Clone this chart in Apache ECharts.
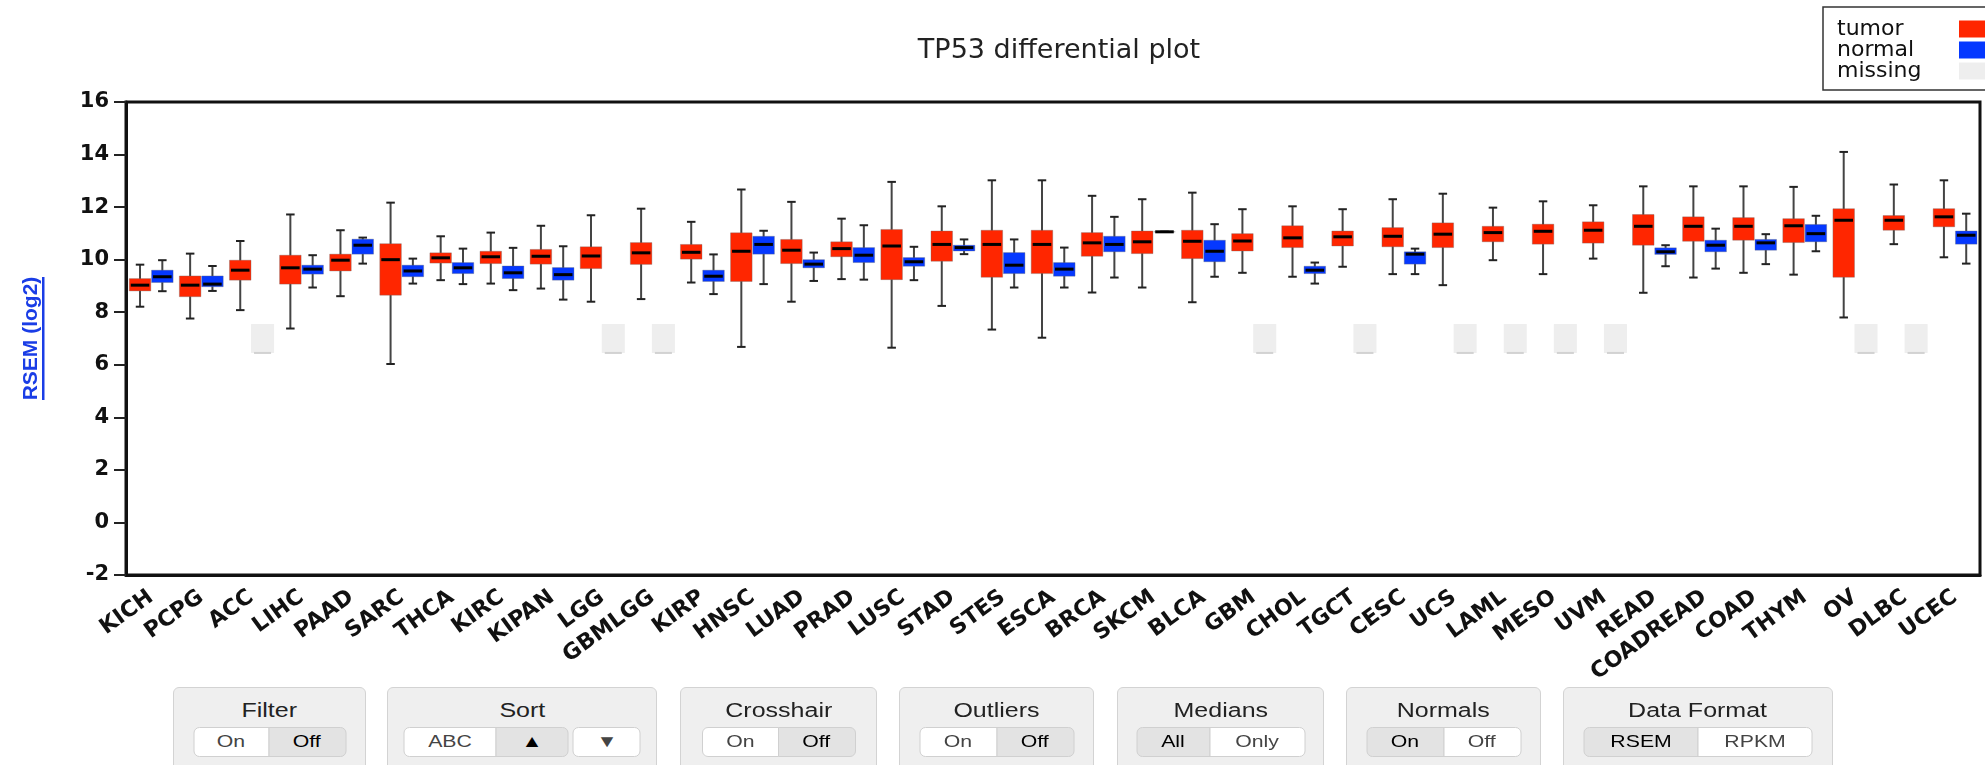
<!DOCTYPE html>
<html>
<head>
<meta charset="utf-8">
<title>TP53 differential plot</title>
<script src="https://cdn.jsdelivr.net/npm/echarts@6.0.0/dist/echarts.min.js"></script>
<style>
  html, body { margin: 0; padding: 0; background: #fff; }
  #wrap { position: relative; width: 1985px; height: 765px; overflow: hidden; }
  #main { position: absolute; left: 0; top: 0; width: 1985px; height: 765px; }
  .panel {
    position: absolute; top: 687px; height: 110px; box-sizing: border-box;
    background: #efefef; border: 1px solid #d3d3d3; border-radius: 6px;
    font-family: 'Liberation Sans', Arial, sans-serif;
  }
  .ttl { margin-top: 10px; text-align: center; font-size: 20px; line-height: 24px; color: #222; }
  .ttl i, .grp i { display: inline-block; font-style: normal; transform: scaleX(1.25); }
  .grp {
    position: absolute; top: 39px; left: 50%; transform: translateX(-50%);
    display: flex; height: 30px;
  }
  .grp span {
    display: flex; align-items: center; justify-content: center;
    background: #fff; border: 1px solid #d0d0d0; margin-left: -1px;
    font-size: 17px; color: #444;
  }
  .grp span:first-child { border-radius: 6px 0 0 6px; margin-left: 0; }
  .grp span:last-child { border-radius: 0 6px 6px 0; }
  .grp span.act { background: #e3e3e3; color: #000; }
  .grp span.sep { margin-left: 4px; border-radius: 6px; }
</style>
</head>
<body>
<div id="wrap">
  <div id="main"></div>

  <div class="panel" style="left:173px;width:193px">
    <div class="ttl"><i>Filter</i></div>
    <div class="grp"><span style="width:74px"><i>On</i></span><span class="act" style="width:76px"><i>Off</i></span></div>
  </div>
  <div class="panel" style="left:387px;width:270px">
    <div class="ttl"><i>Sort</i></div>
    <div class="grp"><span style="width:91px"><i>ABC</i></span><span class="act" style="width:71px;border-radius:0 6px 6px 0"><i>▲</i></span><span class="sep" style="width:66px"><i>▼</i></span></div>
  </div>
  <div class="panel" style="left:680px;width:197px">
    <div class="ttl"><i>Crosshair</i></div>
    <div class="grp"><span style="width:75px"><i>On</i></span><span class="act" style="width:76px"><i>Off</i></span></div>
  </div>
  <div class="panel" style="left:899px;width:195px">
    <div class="ttl"><i>Outliers</i></div>
    <div class="grp"><span style="width:76px"><i>On</i></span><span class="act" style="width:76px"><i>Off</i></span></div>
  </div>
  <div class="panel" style="left:1117px;width:207px">
    <div class="ttl"><i>Medians</i></div>
    <div class="grp"><span class="act" style="width:72px"><i>All</i></span><span style="width:94px"><i>Only</i></span></div>
  </div>
  <div class="panel" style="left:1346px;width:195px">
    <div class="ttl"><i>Normals</i></div>
    <div class="grp"><span class="act" style="width:76px"><i>On</i></span><span style="width:76px"><i>Off</i></span></div>
  </div>
  <div class="panel" style="left:1563px;width:270px">
    <div class="ttl"><i>Data Format</i></div>
    <div class="grp"><span class="act" style="width:113px"><i>RSEM</i></span><span style="width:113px"><i>RPKM</i></span></div>
  </div>
</div>

<script>
// cohorts, in the sorted (ascending tumor median) order of the reference
const categories = [
  'KICH', 'PCPG', 'ACC', 'LIHC', 'PAAD', 'SARC', 'THCA', 'KIRC', 'KIPAN', 'LGG',
  'GBMLGG', 'KIRP', 'HNSC', 'LUAD', 'PRAD', 'LUSC', 'STAD', 'STES', 'ESCA', 'BRCA',
  'SKCM', 'BLCA', 'GBM', 'CHOL', 'TGCT', 'CESC', 'UCS', 'LAML', 'MESO', 'UVM',
  'READ', 'COADREAD', 'COAD', 'THYM', 'OV', 'DLBC', 'UCEC'
]

// [low whisker, Q1, median, Q3, high whisker], RSEM (log2)
const tumorStats = [
  [8.21, 8.81, 9.03, 9.28, 9.81],
  [7.76, 8.59, 9.03, 9.38, 10.23],
  [8.08, 9.22, 9.60, 9.98, 10.71],
  [7.38, 9.07, 9.69, 10.17, 11.72],
  [8.61, 9.57, 9.98, 10.21, 11.12],
  [6.03, 8.65, 10.00, 10.61, 12.17],
  [9.22, 9.87, 10.07, 10.26, 10.89],
  [9.09, 9.85, 10.11, 10.32, 11.03],
  [8.90, 9.83, 10.13, 10.39, 11.29],
  [8.40, 9.66, 10.14, 10.49, 11.69],
  [8.50, 9.82, 10.26, 10.65, 11.94],
  [9.13, 10.02, 10.28, 10.58, 11.44],
  [6.68, 9.17, 10.32, 11.02, 12.67],
  [8.40, 9.85, 10.36, 10.77, 12.20],
  [9.26, 10.11, 10.42, 10.68, 11.56],
  [6.65, 9.24, 10.52, 11.15, 12.96],
  [8.24, 9.94, 10.58, 11.09, 12.03],
  [7.34, 9.33, 10.58, 11.12, 13.02],
  [7.03, 9.47, 10.58, 11.12, 13.02],
  [8.75, 10.13, 10.64, 11.03, 12.43],
  [8.94, 10.23, 10.68, 11.09, 12.30],
  [8.38, 10.04, 10.70, 11.12, 12.55],
  [9.50, 10.33, 10.71, 10.99, 11.92],
  [9.35, 10.46, 10.83, 11.29, 12.03],
  [9.73, 10.52, 10.87, 11.09, 11.92],
  [9.45, 10.49, 10.89, 11.22, 12.30],
  [9.03, 10.46, 10.97, 11.40, 12.51],
  [9.98, 10.68, 11.03, 11.27, 11.98],
  [9.45, 10.59, 11.08, 11.35, 12.22],
  [10.04, 10.63, 11.12, 11.44, 12.07],
  [8.74, 10.55, 11.27, 11.72, 12.79],
  [9.32, 10.70, 11.27, 11.63, 12.79],
  [9.50, 10.74, 11.27, 11.60, 12.79],
  [9.43, 10.65, 11.29, 11.56, 12.77],
  [7.80, 9.33, 11.50, 11.94, 14.10],
  [10.59, 11.12, 11.50, 11.68, 12.86],
  [10.09, 11.25, 11.63, 11.94, 13.02]
]

// null = no normal samples (drawn as a grey "missing" block)
const normalStats = [
  [8.80, 9.13, 9.35, 9.60, 9.98],
  [8.81, 8.97, 9.07, 9.38, 9.76],
  null,
  [8.94, 9.45, 9.64, 9.79, 10.17],
  [9.85, 10.21, 10.55, 10.78, 10.84],
  [9.09, 9.35, 9.57, 9.79, 10.04],
  [9.07, 9.47, 9.69, 9.89, 10.42],
  [8.84, 9.28, 9.50, 9.76, 10.45],
  [8.48, 9.22, 9.43, 9.70, 10.51],
  null,
  null,
  [8.69, 9.17, 9.37, 9.60, 10.20],
  [9.07, 10.21, 10.58, 10.89, 11.10],
  [9.19, 9.69, 9.83, 10.00, 10.27],
  [9.24, 9.89, 10.17, 10.46, 11.31],
  [9.22, 9.75, 9.92, 10.08, 10.49],
  [10.21, 10.33, 10.46, 10.55, 10.77],
  [8.94, 9.47, 9.79, 10.27, 10.77],
  [8.94, 9.37, 9.64, 9.89, 10.46],
  [9.32, 10.30, 10.58, 10.89, 11.63],
  [11.06, 11.06, 11.06, 11.06, 11.06],
  [9.35, 9.92, 10.32, 10.74, 11.35],
  null,
  [9.09, 9.47, 9.60, 9.75, 9.89],
  null,
  [9.45, 9.83, 10.21, 10.30, 10.42],
  null,
  null,
  null,
  null,
  [9.75, 10.20, 10.30, 10.45, 10.55],
  [9.66, 10.30, 10.55, 10.74, 11.18],
  [9.83, 10.36, 10.64, 10.77, 10.97],
  [10.32, 10.68, 10.99, 11.34, 11.67],
  null,
  null,
  [9.85, 10.59, 10.93, 11.09, 11.75]
]

// span of the grey placeholder block
const missingRange = [6.45, 7.55]

const yTicks = { min: -2, max: 16, interval: 2 }

const TUMOR = '#ff2600'
const NORMAL = '#0538ff'
const MISSING = '#eeeeee'
const LINK_BLUE = '#1a3de6'

const tumorData = tumorStats.map((s, i) => [i].concat(s))
const normalData = []
const missingData = []
normalStats.forEach((s, i) => {
  if (s) normalData.push([i].concat(s))
  else missingData.push([i, missingRange[0], missingRange[1]])
})

function boxRenderer(offset, fill) {
  return function(params, api) {
    const band = api.size([1, 0])[0]
    const half = band * 0.215
    const cap = band * 0.085
    const xc = api.coord([api.value(0), 0])[0] + offset * band
    const y = (d) => api.coord([api.value(0), api.value(d)])[1]
    const yLow = y(1)
    const yQ1 = y(2)
    const yMed = y(3)
    const yQ3 = y(4)
    const yHigh = y(5)
    const whisker = { stroke: '#444', lineWidth: 2 }
    const capStyle = { stroke: '#222', lineWidth: 2 }
    return {
      type: 'group',
      children: [
        { type: 'line', shape: { x1: xc, y1: yHigh, x2: xc, y2: yLow }, style: whisker },
        { type: 'line', shape: { x1: xc - cap, y1: yHigh, x2: xc + cap, y2: yHigh }, style: capStyle },
        { type: 'line', shape: { x1: xc - cap, y1: yLow, x2: xc + cap, y2: yLow }, style: capStyle },
        {
          type: 'rect',
          shape: { x: xc - half, y: yQ3, width: half * 2, height: yQ1 - yQ3 },
          style: { fill: fill, stroke: 'rgba(110,110,110,0.35)', lineWidth: 1 }
        },
        { type: 'line', shape: { x1: xc - half + 1.5, y1: yMed, x2: xc + half - 1.5, y2: yMed }, style: { stroke: '#000', lineWidth: 3 } }
      ]
    }
  }
}

function missingRenderer(params, api) {
  const band = api.size([1, 0])[0]
  const half = band * 0.23
  const xc = api.coord([api.value(0), 0])[0] + 0.225 * band
  const yLow = api.coord([api.value(0), api.value(1)])[1]
  const yHigh = api.coord([api.value(0), api.value(2)])[1]
  return {
    type: 'group',
    children: [
      { type: 'rect', shape: { x: xc - half, y: yHigh, width: half * 2, height: yLow - yHigh }, style: { fill: MISSING } },
      { type: 'line', shape: { x1: xc - half + 3, y1: yLow, x2: xc + half - 3, y2: yLow }, style: { stroke: '#d2d2d2', lineWidth: 2 } }
    ]
  }
}

const chart = echarts.init(document.getElementById('main'), null, { renderer: 'canvas' })

chart.setOption({
  backgroundColor: '#fff',
  animation: false,
  title: {
    text: 'TP53 differential plot',
    left: 1054,
    top: 32,
    textAlign: 'center',
    textStyle: {
      fontFamily: 'DejaVu Sans',
      fontWeight: 'normal',
      fontSize: 27,
      color: '#222'
    }
  },
  legend: {
    orient: 'vertical',
    left: 1823,
    top: 7,
    align: 'right',
    icon: 'rect',
    itemWidth: 30,
    itemHeight: 17,
    itemGap: -1,
    padding: [11, 0, 8, 14],
    borderColor: '#333',
    borderWidth: 1.5,
    backgroundColor: '#fff',
    selectedMode: false,
    formatter: '{t|{name}}',
    textStyle: {
      rich: {
        t: {
          width: 117,
          align: 'left',
          fontFamily: 'DejaVu Sans',
          fontSize: 22,
          lineHeight: 20,
          color: '#111'
        }
      }
    },
    data: ['tumor', 'normal', 'missing']
  },
  grid: {
    left: 126,
    right: 5,
    top: 102,
    bottom: 190,
    show: true,
    borderColor: '#111',
    borderWidth: 3,
    backgroundColor: 'transparent'
  },
  xAxis: {
    type: 'category',
    data: categories,
    boundaryGap: true,
    axisLine: { onZero: false, lineStyle: { color: '#111', width: 3 } },
    axisTick: { alignWithLabel: true, length: 9, lineStyle: { color: '#222', width: 2 } },
    axisLabel: {
      interval: 0,
      rotate: 36,
      margin: 20,
      fontFamily: 'DejaVu Sans',
      fontWeight: 'bold',
      fontSize: 22,
      color: '#111'
    },
    splitLine: { show: false }
  },
  yAxis: {
    type: 'value',
    min: yTicks.min,
    max: yTicks.max,
    interval: yTicks.interval,
    name: 'RSEM (log2)',
    nameLocation: 'middle',
    nameGap: 84,
    nameTextStyle: {
      fontFamily: 'Liberation Sans',
      fontWeight: 'bold',
      fontSize: 21,
      color: LINK_BLUE
    },
    axisLine: { show: true, lineStyle: { color: '#111', width: 3 } },
    axisTick: { show: true, length: 12, lineStyle: { color: '#222', width: 2 } },
    axisLabel: {
      margin: 17,
      fontFamily: 'DejaVu Sans',
      fontWeight: 'bold',
      fontSize: 21,
      color: '#111'
    },
    splitLine: { show: false }
  },
  graphic: [
    // underline of the axis-name link
    {
      type: 'rect',
      left: 42,
      top: 277,
      silent: true,
      shape: { width: 2.5, height: 123 },
      style: { fill: LINK_BLUE }
    }
  ],
  series: [
    {
      name: 'tumor',
      type: 'custom',
      itemStyle: { color: TUMOR },
      encode: { x: 0, y: [1, 2, 3, 4, 5] },
      renderItem: boxRenderer(-0.22, TUMOR),
      data: tumorData,
      z: 3
    },
    {
      name: 'normal',
      type: 'custom',
      itemStyle: { color: NORMAL },
      encode: { x: 0, y: [1, 2, 3, 4, 5] },
      renderItem: boxRenderer(0.225, NORMAL),
      data: normalData,
      z: 3
    },
    {
      name: 'missing',
      type: 'custom',
      itemStyle: { color: MISSING },
      encode: { x: 0, y: [1, 2] },
      renderItem: missingRenderer,
      data: missingData,
      z: 2
    }
  ]
})
</script>
</body>
</html>
